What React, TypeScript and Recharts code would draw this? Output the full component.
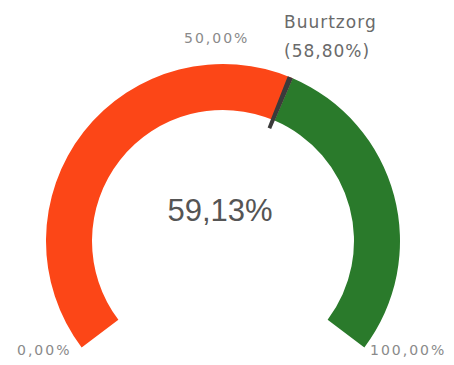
import { Cell, Pie, PieChart } from "recharts";

const ranges = ["score", "rest"];
const scoreValues = [59.13, 40.87];
const rangeColors = ["#fc4617", "#2a7a2b"];
const benchmarkName = "Buurtzorg";
const benchmarkValue = 58.8;
const markerWidth = 0.7;
const tickLabels = ["0,00%", "50,00%", "100,00%"];

const fmt = (v: number) => v.toFixed(2).replace(".", ",") + "%";

const gaugeData = ranges.map((name, i) => ({ name, value: scoreValues[i] }));
const markerData = [
  { name: "before", value: benchmarkValue - markerWidth / 2 },
  { name: "marker", value: markerWidth },
  { name: "after", value: 100 - benchmarkValue - markerWidth / 2 },
];

const tickStyle: React.CSSProperties = {
  position: "absolute",
  fontFamily: "'DejaVu Sans', sans-serif",
  fontSize: 14,
  letterSpacing: 2,
  color: "#8a8a8a",
  whiteSpace: "nowrap",
};

export default function App() {
  return (
    <div style={{ position: "absolute", left: 0, top: 0, width: 454, height: 365, background: "#fff" }}>
      <PieChart width={454} height={365}>
        <Pie
          data={gaugeData}
          dataKey="value"
          cx={218}
          cy={236}
          startAngle={217}
          endAngle={-37}
          innerRadius={131}
          outerRadius={177}
          stroke="none"
          isAnimationActive={false}
        >
          {gaugeData.map((d, i) => (
            <Cell key={d.name} fill={rangeColors[i]} />
          ))}
        </Pie>
        <Pie
          data={markerData}
          dataKey="value"
          cx={218}
          cy={236}
          startAngle={217}
          endAngle={-37}
          innerRadius={122}
          outerRadius={177}
          stroke="none"
          isAnimationActive={false}
        >
          {markerData.map((d) => (
            <Cell key={d.name} fill={d.name === "marker" ? "#3b3b3b" : "transparent"} />
          ))}
        </Pie>
      </PieChart>
      <div
        style={{
          position: "absolute",
          left: 120,
          width: 200,
          top: 193,
          textAlign: "center",
          fontFamily: "'Liberation Sans', sans-serif",
          fontSize: 31,
          color: "#555",
        }}
      >
        {fmt(scoreValues[0])}
      </div>
      <div style={{ ...tickStyle, left: 17, top: 342 }}>{tickLabels[0]}</div>
      <div style={{ ...tickStyle, left: 184, top: 30 }}>{tickLabels[1]}</div>
      <div style={{ ...tickStyle, left: 370, top: 342 }}>{tickLabels[2]}</div>
      <div
        style={{
          position: "absolute",
          left: 284,
          top: 8,
          fontFamily: "'DejaVu Sans', sans-serif",
          fontSize: 17,
          lineHeight: "29px",
          color: "#6a6a6a",
          letterSpacing: 1,
        }}
      >
        <div>{benchmarkName}</div>
        <div>({fmt(benchmarkValue)})</div>
      </div>
    </div>
  );
}
